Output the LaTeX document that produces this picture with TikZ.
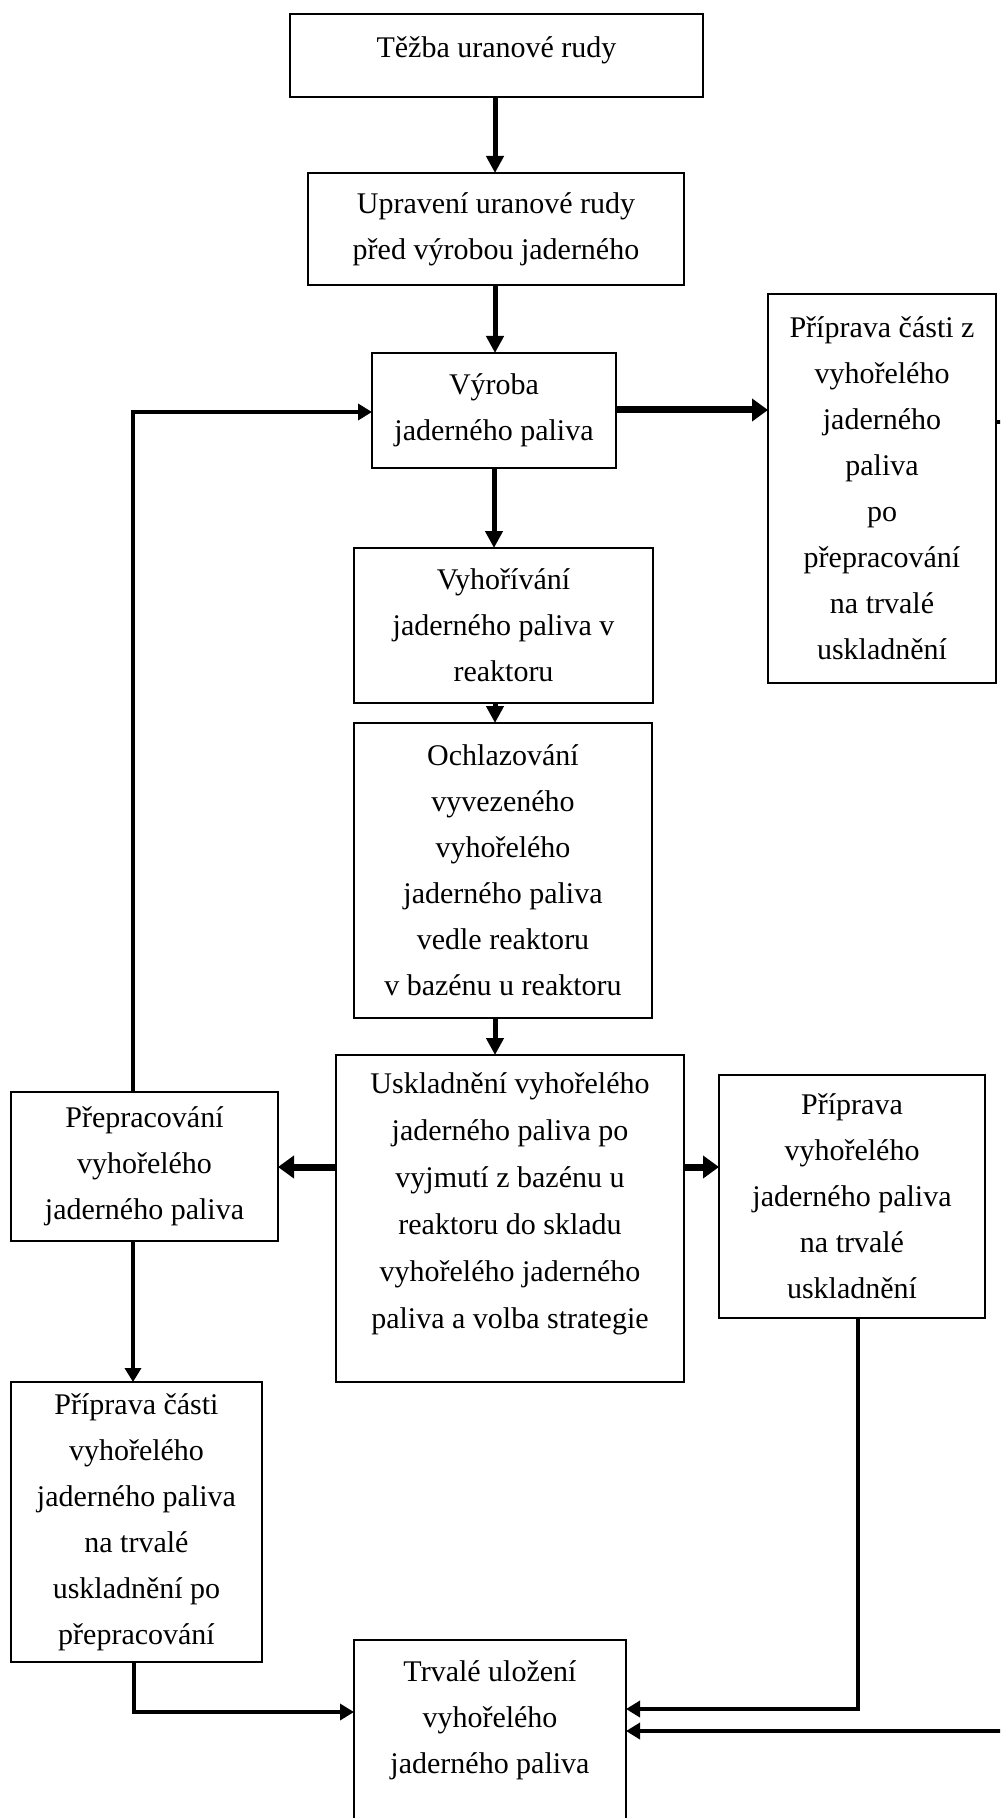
\documentclass[tikz,border=0pt]{standalone}
\usepackage{fontspec}
\setmainfont{Liberation Serif}
\usetikzlibrary{arrows.meta}
\tikzset{
  box/.style={draw, line width=1pt, rectangle, inner sep=0pt, outer sep=0pt,
    align=center, font=\fontsize{15pt}{23pt}\selectfont},
  arrmain/.style={line width=2.5pt, -{Triangle[length=8.5pt,width=8.5pt]}},
  arrthick/.style={line width=3.5pt, -{Triangle[length=8pt,width=11pt]}},
  arrloop/.style={line width=2pt, -{Triangle[length=7pt,width=8pt]}},
}
\begin{document}
\begin{tikzpicture}[x=0.5pt,y=-0.5pt]
\clip (0,0) rectangle (1000,1818);
\fill[white] (0,0) rectangle (1000,1818);

\node[box, minimum width=206.5pt, minimum height=41.5pt] (tezba) at (496.5,55.5)
  {Těžba uranové rudy\\[-15pt]\mbox{}};
\node[box, minimum width=188pt, minimum height=56pt] (uprav) at (496,229)
  {Upravení uranové rudy\\před výrobou jaderného};
\node[box, minimum width=122pt, minimum height=57.5pt] (vyroba) at (494,410.5)
  {Výroba\\jaderného paliva};
\node[box, minimum width=114pt, minimum height=194.5pt] (pripz) at (882,488.5)
  {Příprava části z\\vyhořelého\\jaderného\\paliva\\po\\přepracování\\na trvalé\\uskladnění};
\node[box, minimum width=149.5pt, minimum height=77.5pt] (vyhor) at (503.5,625.5)
  {Vyhořívání\\jaderného paliva v\\reaktoru};
\node[box, minimum width=149pt, minimum height=147.5pt] (ochl) at (503,870.5)
  {Ochlazování\\vyvezeného\\vyhořelého\\jaderného paliva\\vedle reaktoru\\v bazénu u reaktoru};
\node[box, minimum width=174pt, minimum height=163.5pt, font=\fontsize{15pt}{23.5pt}\selectfont] (uskl) at (510,1218.5)
  {Uskladnění vyhořelého\\jaderného paliva po\\vyjmutí z bazénu u\\reaktoru do skladu\\vyhořelého jaderného\\paliva a volba strategie\\[-6pt]\mbox{}};
\node[box, minimum width=133.5pt, minimum height=74.5pt] (prepr) at (144.5,1166.5)
  {Přepracování\\vyhořelého\\jaderného paliva};
\node[box, minimum width=133pt, minimum height=121.5pt] (pripv) at (852,1196.5)
  {Příprava\\vyhořelého\\jaderného paliva\\na trvalé\\uskladnění};
\node[box, minimum width=125.5pt, minimum height=140pt] (pripc) at (136.5,1522)
  {Příprava části\\vyhořelého\\jaderného paliva\\na trvalé\\uskladnění po\\přepracování};
\node[box, minimum width=136pt, minimum height=100pt] (trvale) at (490,1740)
  {Trvalé uložení\\vyhořelého\\jaderného paliva\\\mbox{}};

% main vertical chain
\draw[arrmain] (495,0 |- tezba.south) -- (495,0 |- uprav.north);
\draw[arrmain] (495,0 |- uprav.south) -- (495,0 |- vyroba.north);
\draw[arrmain] (494,0 |- vyroba.south) -- (494,0 |- vyhor.north);
\draw[arrmain] (495,0 |- vyhor.south) -- (495,0 |- ochl.north);
\draw[arrmain] (495,0 |- ochl.south) -- (495,0 |- uskl.north);

% horizontal thick arrows
\draw[arrthick] (vyroba.east |- 0,410) -- (pripz.west |- 0,410);
\draw[arrthick] (uskl.west |- 0,1167) -- (prepr.east |- 0,1167);
\draw[arrthick] (uskl.east |- 0,1167) -- (pripv.west |- 0,1167);

% loops
\draw[arrloop] (133,0 |- prepr.north) -- (133,412) -- (vyroba.west |- 0,412);
\draw[arrloop] (133,0 |- prepr.south) -- (133,0 |- pripc.north);
\draw[arrloop] (134,0 |- pripc.south) -- (134,1712) -- (trvale.west |- 0,1712);
\draw[arrloop] (858,0 |- pripv.south) -- (858,1709) -- (trvale.east |- 0,1709);
\draw[arrloop] (pripz.east |- 0,422) -- (1012,422) -- (1012,1731) -- (trvale.east |- 0,1731);
\end{tikzpicture}
\end{document}
